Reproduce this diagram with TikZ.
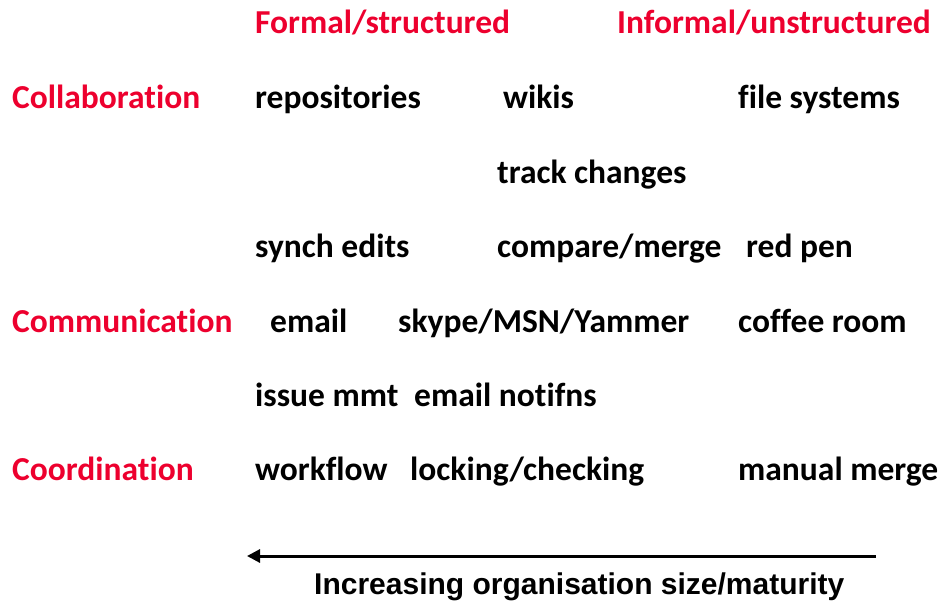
\documentclass[tikz,border=0pt]{standalone}
\usepackage{fontspec}
\setmainfont[Ligatures=NoCommon]{Carlito}
\newfontfamily\arialbf{Liberation Sans}
\usetikzlibrary{arrows.meta}
\definecolor{headred}{RGB}{237,0,46}
\begin{document}
\begin{tikzpicture}[x=1pt,y=-1pt,
  lbl/.style={anchor=base west,inner sep=0pt,font=\fontsize{33.5}{36}\selectfont\bfseries},
  head/.style={lbl,text=headred},
  item/.style={lbl,text=black}]
\useasboundingbox (0,0) rectangle (941,605);
% column headings
\node[head] (formal) at (255,33) {Formal/structured};
\node[head] (informal) at (617,33) {Informal/unstructured};
% collaboration
\node[head] (collab) at (12,108) {Collaboration};
\node[item] (repo) at (255,108) {repositories};
\node[item] (wikis) at (503,108) {wikis};
\node[item] (files) at (738,108) {file systems};
\node[item] (track) at (497,183) {track changes};
\node[item] (synch) at (255,257) {synch edits};
\node[item] (compare) at (497,257) {compare/merge};
\node[item] (redpen) at (746,257) {red pen};
% communication
\node[head] (comm) at (12,332) {Communication};
\node[item] (email) at (270,332) {email};
\node[item] (skype) at (398,332) {skype/MSN/Yammer};
\node[item] (coffee) at (738,332) {coffee room};
\node[item] (issue) at (255,406) {issue mmt};
\node[item] (notif) at (414,406) {email notifns};
% coordination
\node[head] (coord) at (12,480) {Coordination};
\node[item] (workflow) at (255,480) {workflow};
\node[item] (locking) at (410,480) {locking/checking};
\node[item] (manual) at (738,480) {manual merge};
% scale arrow
\coordinate (aend) at (876,556);
\coordinate (atip) at (247,556);
\draw[line width=3pt,-{Triangle[length=13pt,width=13pt]}] (aend) -- (atip);
\node[anchor=base west,inner sep=0pt,font=\arialbf\fontsize{30}{33}\selectfont\bfseries] (scale) at (314,594) {Increasing organisation size/maturity};
\end{tikzpicture}
\end{document}
